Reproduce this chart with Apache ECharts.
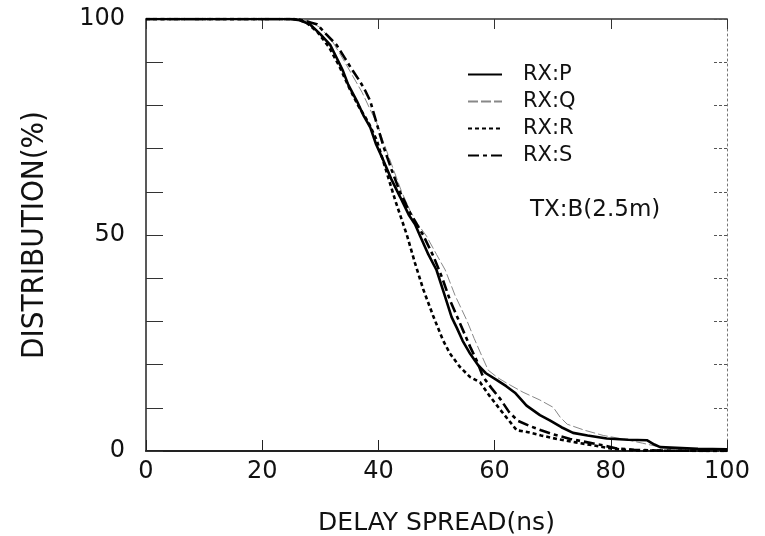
<!DOCTYPE html>
<html>
<head>
<meta charset="utf-8">
<script src="https://cdn.jsdelivr.net/npm/echarts@6/dist/echarts.min.js"></script>
<style>html,body{margin:0;padding:0;background:#fff}#c{width:765px;height:536px}</style>
</head>
<body>
<div id="c"></div>
<script>
var seriesNames = ['RX:P', 'RX:Q', 'RX:R', 'RX:S'];
var xTicks = [0, 20, 40, 60, 80, 100];
var yTickLabels = [0, 50, 100];
var annotation = 'TX:B(2.5m)';
var xTitle = 'DELAY SPREAD(ns)';
var yTitle = 'DISTRIBUTION(%)';

var rxP = [[0,100],[24.8,100],[26.5,99.7],[28.2,98.8],[30,96.5],[31.7,94],[33,90.5],[33.9,88],[34.8,84.8],[36.3,81],[37.5,77.5],[38.6,74.9],[39.6,71],[40.8,67.4],[42.2,63],[43.7,58.9],[45.3,54.5],[46.3,52.5],[47.2,49.7],[48.6,45.5],[50,41.9],[51.3,36.5],[52.6,31],[53.5,28.5],[54.5,25.5],[55.8,22.5],[57.2,19.8],[58.5,18],[60.4,16.4],[62,15],[63.5,13.5],[65.5,10.5],[67.8,8.3],[69.5,7.1],[71.5,5.5],[73.5,4.2],[76,3.6],[79.3,2.9],[83,2.6],[86.2,2.5],[87.5,1.5],[88.5,0.9],[95,0.5],[100,0.4]];
var rxQ = [[0,100],[26,100],[28,99.6],[30,98],[32,95],[33.8,91],[35.5,87],[37.2,83],[38.6,79],[39.7,76],[41,71],[42.5,65.5],[44,60],[45.5,55.5],[46.8,52.5],[48.3,49.7],[50,45.5],[51.5,41.9],[53.2,36],[55.2,30.3],[56.5,26],[57.8,22],[58.9,18.7],[60.5,17],[62.1,15.7],[64.9,13.6],[67.8,11.8],[70.1,10.1],[71.3,7.8],[72.5,6.2],[75.5,4.8],[78.7,3.6],[82,2.8],[85.5,1.8],[88.5,0.9],[92,0.5],[100,0.3]];
var rxR = [[0,100],[25.5,100],[27.5,99.3],[29.5,97],[31.5,93.5],[33.3,89],[35,84],[36.5,80],[38.3,76],[39.7,72],[41.2,65.5],[42.9,58],[44.9,50],[46.3,43.5],[47.7,37.5],[49.5,31],[51.1,25.7],[52.3,22.6],[54,19.5],[55.8,17.1],[57.5,15.9],[59,13],[61,9.5],[62.5,7],[63.8,4.8],[66,4.3],[68,3.6],[71,2.7],[74,2],[77,1.3],[80,0.6],[82,0.3],[85,0.1],[100,0]];
var rxS = [[0,100],[26,100],[27.5,99.5],[29.4,98.8],[31,96.5],[32.8,94],[34.2,91],[35.6,88],[36.8,85.6],[37.7,83.5],[38.6,81],[39.9,74.9],[41,70],[42.3,65],[43.7,60],[45.5,55],[47.7,50],[49.5,45],[51,40],[52.3,35],[53.8,30.3],[55.8,24.1],[56.9,21],[58,17.2],[59.5,14.5],[61,12],[62.5,9],[64,7],[66,5.8],[68,4.8],[70,3.9],[73,2.8],[76,2],[79,1.2],[81,0.6],[84,0.3],[88,0.1],[100,0]];

var FONT = "'DejaVu Sans', 'Liberation Sans', sans-serif";
var chart = echarts.init(document.getElementById('c'), null, {renderer: 'canvas'});
chart.setOption({
  backgroundColor: '#ffffff',
  animation: false,
  grid: {left: 146, top: 19, width: 581, height: 432, containLabel: false, outerBoundsMode: 'none'},
  legend: {
    orient: 'vertical', left: 462, top: 59, itemWidth: 34, itemHeight: 14, itemGap: 6,
    itemStyle: {opacity: 0},
    textStyle: {fontFamily: FONT, fontSize: 21, color: '#111', padding: [0, 0, 0, 16]},
    data: seriesNames
  },
  graphic: [{
    type: 'text', left: 530, top: 199,
    style: {text: annotation, font: "23px 'DejaVu Sans', sans-serif", fill: '#111'}
  }],
  xAxis: [{
    type: 'value', min: 0, max: 100, interval: 20, position: 'bottom',
    name: xTitle, nameLocation: 'middle', nameGap: 60,
    nameTextStyle: {fontFamily: FONT, fontSize: 25, color: '#111'},
    axisLine: {show: true, onZero: false, lineStyle: {color: '#222', width: 2}},
    axisTick: {show: true, inside: true, length: 11, lineStyle: {color: '#222', width: 1}},
    axisLabel: {fontFamily: FONT, fontSize: 24, color: '#111', margin: 9},
    splitLine: {show: false}
  }, {
    type: 'value', min: 0, max: 100, interval: 20, position: 'top',
    axisLine: {show: true, onZero: false, lineStyle: {color: '#333', width: 1.5}},
    axisTick: {show: true, inside: true, length: 10, lineStyle: {color: '#333', width: 1}},
    axisLabel: {show: false}, splitLine: {show: false}
  }],
  yAxis: [{
    type: 'value', min: 0, max: 100, interval: 10, position: 'left',
    name: yTitle, nameLocation: 'middle', nameGap: 96, nameRotate: 90,
    nameTextStyle: {fontFamily: "'Liberation Sans Narrow', 'DejaVu Sans Condensed', 'DejaVu Sans', sans-serif", fontSize: 31, color: '#111'},
    axisLine: {show: true, onZero: false, lineStyle: {color: '#222', width: 1.5}},
    axisTick: {show: true, inside: true, length: 17, lineStyle: {color: '#333', width: 1}},
    axisLabel: {
      fontFamily: FONT, fontSize: 24, color: '#111', margin: 21,
      formatter: function (v) { return yTickLabels.indexOf(v) >= 0 ? String(v) : ''; }
    },
    splitLine: {show: false}
  }, {
    type: 'value', min: 0, max: 100, interval: 10, position: 'right',
    axisLine: {show: true, onZero: false, lineStyle: {color: '#777', width: 1, type: [2, 3]}},
    axisTick: {show: true, inside: true, length: 15, lineStyle: {color: '#555', width: 1, type: [3, 2]}},
    axisLabel: {show: false}, splitLine: {show: false}
  }],
  series: [
    {name: seriesNames[0], type: 'line', data: rxP, symbol: 'none', z: 5,
     lineStyle: {color: '#000', width: 2.6, type: 'solid'}, itemStyle: {color: '#000'}},
    {name: seriesNames[1], type: 'line', data: rxQ, symbol: 'none', z: 3,
     lineStyle: {color: '#888', width: 1, type: [10, 3]}, itemStyle: {color: '#888'}},
    {name: seriesNames[2], type: 'line', data: rxR, symbol: 'none', z: 4,
     lineStyle: {color: '#000', width: 2.6, type: [4, 3]}, itemStyle: {color: '#000'}},
    {name: seriesNames[3], type: 'line', data: rxS, symbol: 'none', z: 4,
     lineStyle: {color: '#000', width: 2.6, type: [11, 4, 4, 4]}, itemStyle: {color: '#000'}}
  ]
});
</script>
</body>
</html>
